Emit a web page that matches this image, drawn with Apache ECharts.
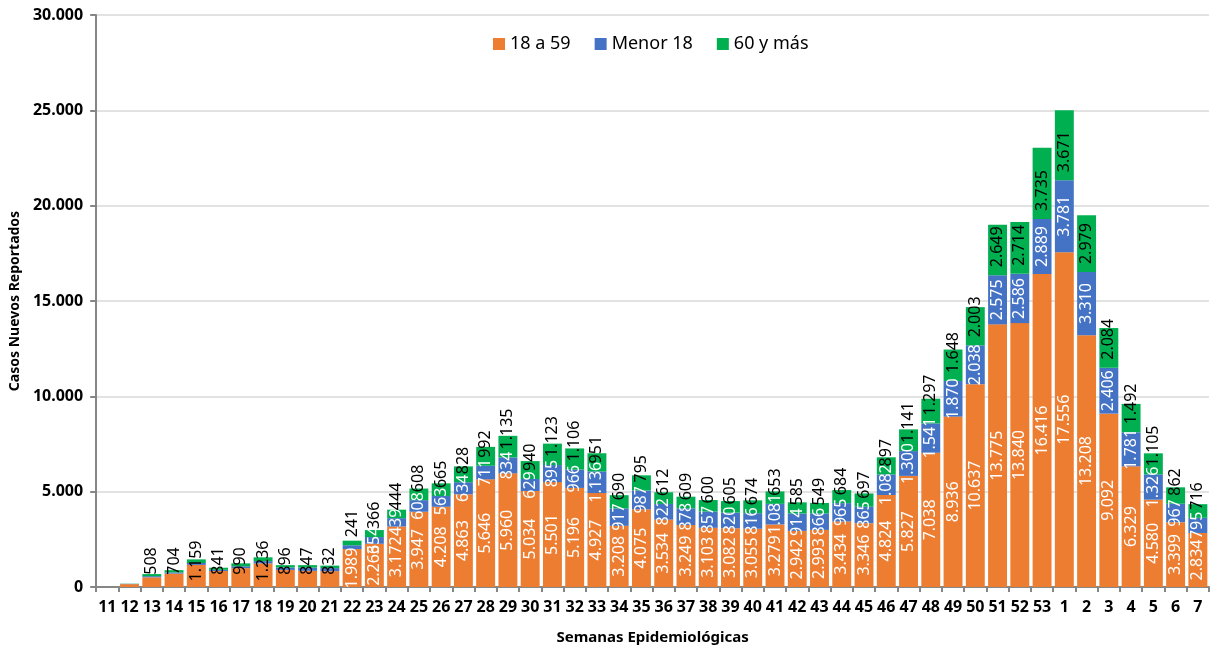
<!DOCTYPE html>
<html>
<head>
<meta charset="utf-8">
<script src="https://cdn.jsdelivr.net/npm/echarts@6/dist/echarts.min.js"></script>
<style>
  html, body { margin: 0; padding: 0; background: #fff; }
  #chart { width: 1210px; height: 650px; }
</style>
</head>
<body>
<div id="chart"></div>
<script>
const weeks = ['11', '12', '13', '14', '15', '16', '17', '18', '19', '20', '21', '22', '23', '24', '25',
  '26', '27', '28', '29', '30', '31', '32', '33', '34', '35', '36', '37', '38', '39', '40', '41', '42',
  '43', '44', '45', '46', '47', '48', '49', '50', '51', '52', '53', '1', '2', '3', '4', '5', '6', '7'];

const adults = [0, 150, 508, 704, 1159, 841, 990, 1236, 896, 847, 832, 1989, 2266, 3172, 3947,
  4208, 4863, 5646, 5960, 5034, 5501, 5196, 4927, 3208, 4075, 3534, 3249, 3103, 3082, 3055, 3279, 2942,
  2993, 3434, 3346, 4824, 5827, 7038, 8936, 10637, 13775, 13840, 16416, 17556, 13208, 9092, 6329, 4580, 3399, 2834];

const minors = [0, 15, 60, 60, 100, 60, 100, 120, 130, 170, 160, 200, 354, 439, 608,
  563, 634, 711, 834, 629, 895, 966, 1136, 917, 987, 822, 878, 857, 820, 816, 1081, 914,
  866, 965, 865, 1082, 1300, 1541, 1870, 2038, 2575, 2586, 2889, 3781, 3310, 2406, 1781, 1326, 967, 795];

const seniors = [0, 10, 110, 120, 190, 110, 150, 200, 120, 130, 130, 241, 366, 444, 608,
  665, 828, 992, 1135, 940, 1123, 1106, 951, 690, 795, 612, 609, 600, 605, 674, 653, 585,
  549, 684, 697, 897, 1141, 1297, 1648, 2003, 2649, 2714, 3735, 3671, 2979, 2084, 1492, 1105, 862, 716];

// semanas iniciales: solo se etiqueta el grupo 18 a 59, en negro
const firstFullWeek = 11;

function fmt(v) {
  return String(v).replace(/\B(?=(\d{3})+(?!\d))/g, '.');
}

const font = 'Noto Sans';

const adultData = adults.map((v, i) => {
  if (i < 2) return { value: v, label: { show: false } };
  if (i < firstFullWeek) {
    // offset va en el marco girado: x local apunta hacia arriba
    return {
      value: v,
      label: {
        show: true, color: '#000', position: 'insideBottom',
        align: 'center', verticalAlign: 'middle', offset: [21, 0]
      }
    };
  }
  return v;
});

const minorData = minors.map((v, i) => i < firstFullWeek + 1 ? { value: v, label: { show: false } } : v);
const seniorData = seniors.map((v, i) => i < firstFullWeek ? { value: v, label: { show: false } } : v);

const chart = echarts.init(document.getElementById('chart'));

const baseLabel = {
  show: true,
  rotate: 90,
  fontFamily: font,
  fontSize: 16,
  formatter: p => fmt(p.value)
};

chart.setOption({
  animation: false,
  backgroundColor: '#fff',
  textStyle: { fontFamily: font },
  legend: {
    top: 30,
    left: 488,
    itemWidth: 12,
    itemHeight: 12,
    itemGap: 24,
    icon: 'rect',
    textStyle: { fontSize: 18, color: '#000', fontFamily: font },
    data: ['18 a 59', 'Menor 18', '60 y más']
  },
  grid: { left: 92, right: 1, top: 15, bottom: 63 },
  xAxis: {
    type: 'category',
    data: weeks,
    name: 'Semanas Epidemiológicas',
    nameLocation: 'middle',
    nameGap: 43,
    nameTextStyle: { fontSize: 15, fontWeight: 'bold', color: '#000', fontFamily: font },
    axisLine: { lineStyle: { color: '#868686', width: 2 } },
    axisTick: { show: true, length: 5, lineStyle: { color: '#868686', width: 2 } },
    axisLabel: { fontSize: 16, fontWeight: 'bold', color: '#000', margin: 12, interval: 0, fontFamily: font }
  },
  yAxis: {
    type: 'value',
    min: 0,
    max: 30000,
    interval: 5000,
    name: 'Casos Nuevos Reportados',
    nameLocation: 'middle',
    nameGap: 72,
    nameTextStyle: { fontSize: 14, fontWeight: 'bold', color: '#000', fontFamily: font },
    axisLine: { show: true, lineStyle: { color: '#868686', width: 2 } },
    axisTick: { show: true, length: 6, lineStyle: { color: '#868686', width: 2 } },
    splitLine: { lineStyle: { color: '#d9d9d9', width: 1.5 } },
    axisLabel: { fontSize: 16, fontWeight: 'bold', color: '#000', margin: 13, formatter: fmt, fontFamily: font }
  },
  series: [
    {
      name: '18 a 59',
      type: 'bar',
      stack: 'total',
      barCategoryGap: '15%',
      itemStyle: { color: '#ED7D31' },
      label: Object.assign({}, baseLabel, { color: '#fff', position: 'inside' }),
      data: adultData
    },
    {
      name: 'Menor 18',
      type: 'bar',
      stack: 'total',
      itemStyle: { color: '#4472C4' },
      label: Object.assign({}, baseLabel, { color: '#fff', position: 'inside' }),
      data: minorData
    },
    {
      name: '60 y más',
      type: 'bar',
      stack: 'total',
      itemStyle: { color: '#00B050' },
      label: Object.assign({}, baseLabel, {
        color: '#000', position: 'insideBottom', distance: 8,
        align: 'left', verticalAlign: 'middle'
      }),
      data: seniorData
    }
  ]
});
</script>
</body>
</html>
